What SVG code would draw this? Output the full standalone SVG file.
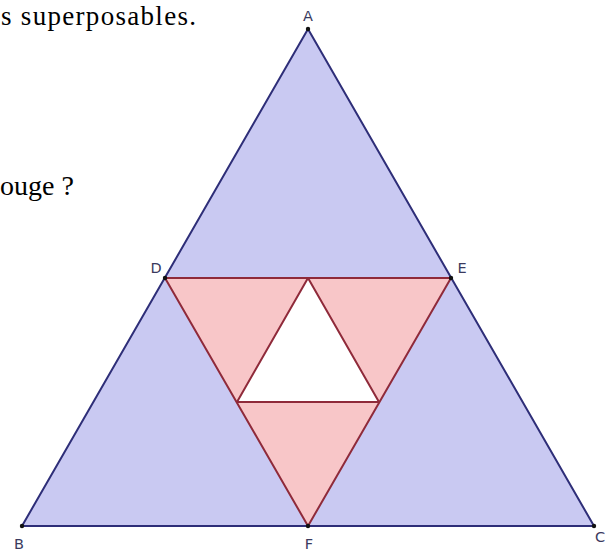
<svg xmlns="http://www.w3.org/2000/svg" width="608" height="551" viewBox="0 0 608 551">
<style>
.txt{font-family:"Liberation Serif","Times New Roman",serif;fill:#000}
.lbl{font-family:"DejaVu Sans","Liberation Sans",sans-serif;font-size:14.5px;fill:#3a3a5e}
.blue{fill:#c9c9f2;stroke:#2e2e78;stroke-width:2;stroke-linejoin:round}
.red{fill:#f8c6c8;stroke:#8f2a3a;stroke-width:2;stroke-linejoin:round}
.hole{fill:#ffffff;stroke:#8f2a3a;stroke-width:2;stroke-linejoin:round}
.pt{fill:#111}
</style>
<rect width="608" height="551" fill="#fff"/>
<text class="txt" x="1" y="25" font-size="27" textLength="195" lengthAdjust="spacing">s superposables.</text>
<text class="txt" x="0" y="195" font-size="28">ouge ?</text>
<g id="triangle-ABC"><polygon class="blue" points="308,29 22,526 594,526"/></g>
<g id="triangle-DEF"><polygon class="red" points="165,278 451,278 308,526"/></g>
<g id="triangle-inner"><polygon class="hole" points="308,278 237,402 379,402"/></g>
<g id="points">
<g id="A"><circle class="pt" cx="308" cy="29" r="2.2"/><text class="lbl" x="308" y="21" text-anchor="middle">A</text></g>
<g id="B"><circle class="pt" cx="22" cy="526" r="2.2"/><text class="lbl" x="19" y="549" text-anchor="middle">B</text></g>
<g id="C"><circle class="pt" cx="594" cy="526" r="2.2"/><text class="lbl" x="600" y="542" text-anchor="middle">C</text></g>
<g id="D"><circle class="pt" cx="165" cy="278" r="2.2"/><text class="lbl" x="156" y="273" text-anchor="middle">D</text></g>
<g id="E"><circle class="pt" cx="451" cy="278" r="2.2"/><text class="lbl" x="462" y="273" text-anchor="middle">E</text></g>
<g id="F"><circle class="pt" cx="308" cy="526" r="2.2"/><text class="lbl" x="309" y="549" text-anchor="middle">F</text></g>
</g>
</svg>
